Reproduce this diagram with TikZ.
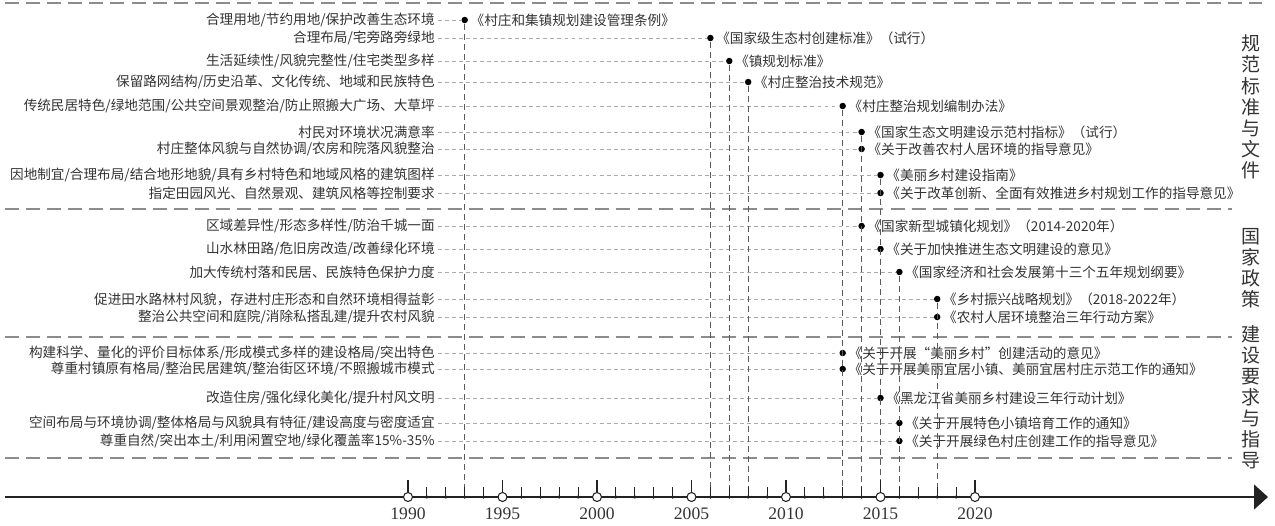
\documentclass[tikz,border=0pt]{standalone}
\usepackage{fontspec}
\setmainfont{Liberation Serif}
\newfontfamily\cjk{Noto Sans CJK SC}
\usepackage{xcolor}
\usetikzlibrary{positioning,arrows.meta}
\definecolor{rowline}{HTML}{ABABAB}
\definecolor{secline}{HTML}{8C8C8C}
\definecolor{yearline}{HTML}{5A5A5A}
\definecolor{inkcol}{HTML}{333333}
\definecolor{axiscol}{HTML}{222222}

\begin{document}
\begin{tikzpicture}[x=0.02cm, y=-0.02cm,
      reqtext/.style={anchor=east, inner sep=0pt, text=inkcol,
                      font=\cjk\fontsize{7.75}{9}\selectfont},
      doctext/.style={anchor=west, inner sep=0pt, text=inkcol,
                      font=\cjk\fontsize{7.75}{9}\selectfont},
      docdot/.style={circle, fill=black, inner sep=0pt, minimum size=0.13cm},
      rowdash/.style={draw=rowline, line width=0.5pt, dash pattern=on 2.2pt off 1.8pt},
      secdash/.style={draw=secline, line width=1.1pt, dash pattern=on 8pt off 4pt},
      yrdash/.style={draw=yearline, line width=0.5pt, dash pattern=on 3.4pt off 2.3pt},
      yrcirc/.style={circle, draw=axiscol, fill=white, line width=0.6pt,
                     inner sep=0pt, minimum size=0.18cm},
      sidelab/.style={align=center, text=inkcol, inner sep=0pt,
                      font=\cjk\fontsize{10.8}{12}\selectfont},
      yrlab/.style={font=\fontsize{10}{12}\selectfont, text=inkcol, inner sep=0pt}]

    \useasboundingbox (0,0) rectangle (1275,525);

    % section separators
    \draw[secdash] (5,3) -- (1262,3);
    \foreach \y in {209,337,458}
      \draw[secdash] (5,\y) -- (1232,\y);

    % time axis
    \coordinate (axL) at (5,497);
    \coordinate (axR) at (1268,497);
    \draw[axiscol, line width=0.7pt, -{Triangle[length=0.28cm, width=0.5cm]}] (axL) -- (axR);

    \foreach \yr in {1991,...,2019} {
      \coordinate (tk\yr) at ({408+18.9*(\yr-1990)},487);
      \draw[axiscol, line width=0.5pt] (tk\yr) -- ({408+18.9*(\yr-1990)},497);
      \fill[axiscol] ({408+18.9*(\yr-1990)},497) circle (0.035cm);
    }
    \foreach \yr in {1990,1995,...,2020} {
      \coordinate (tk\yr) at ({408+18.9*(\yr-1990)},480);
      \node[yrcirc] (c\yr) at ({408+18.9*(\yr-1990)},497) {};
      \draw[axiscol, line width=0.6pt] (tk\yr) -- (c\yr);
      \node[yrlab] (l\yr) at ({408+18.9*(\yr-1990)},514) {\yr};
    }

    % requirements and documents
    \foreach \y/\yr/\req/\doc [count=\i] in {
        20/1993/{合理用地/节约用地/保护改善生态环境}/{《村庄和集镇规划建设管理条例》},
        38/2006/{合理布局/宅旁路旁绿地}/{《国家级生态村创建标准》（试行）},
        61/2007/{生活延续性/风貌完整性/住宅类型多样}/{《镇规划标准》},
        82/2008/{保留路网结构/历史沿革、文化传统、地域和民族特色}/{《村庄整治技术规范》},
        106/2013/{传统民居特色/绿地范围/公共空间景观整治/防止照搬大广场、大草坪}/{《村庄整治规划编制办法》},
        132/2014/{村民对环境状况满意率}/{《国家生态文明建设示范村指标》（试行）},
        149/2014/{村庄整体风貌与自然协调/农房和院落风貌整治}/{《关于改善农村人居环境的指导意见》},
        175/2015/{因地制宜/合理布局/结合地形地貌/具有乡村特色和地域风格的建筑图样}/{《美丽乡村建设指南》},
        193/2015/{指定田园风光、自然景观、建筑风格等控制要求}/{《关于改革创新、全面有效推进乡村规划工作的指导意见》},
        226/2014/{区域差异性/形态多样性/防治千城一面}/{《国家新型城镇化规划》（2014-2020年）},
        249/2015/{山水林田路/危旧房改造/改善绿化环境}/{《关于加快推进生态文明建设的意见》},
        272/2016/{加大传统村落和民居、民族特色保护力度}/{《国家经济和社会发展第十三个五年规划纲要》},
        299/2018/{促进田水路林村风貌，存进村庄形态和自然环境相得益彰}/{《乡村振兴战略规划》（2018-2022年）},
        317/2018/{整治公共空间和庭院/消除私搭乱建/提升农村风貌}/{《农村人居环境整治三年行动方案》},
        353/2013/{构建科学、量化的评价目标体系/形成模式多样的建设格局/突出特色}/{《关于开展“美丽乡村”创建活动的意见》},
        369/2013/{尊重村镇原有格局/整治民居建筑/整治街区环境/不照搬城市模式}/{《关于开展美丽宜居小镇、美丽宜居村庄示范工作的通知》},
        398/2015/{改造住房/强化绿化美化/提升村风文明}/{《黑龙江省美丽乡村建设三年行动计划》},
        423/2016/{空间布局与环境协调/整体格局与风貌具有特征/建设高度与密度适宜}/{《关于开展特色小镇培育工作的通知》},
        441/2016/{尊重自然/突出本土/利用闲置空地/绿化覆盖率15\%-35\%}/{《关于开展绿色村庄创建工作的指导意见》}}
    {
      \node[reqtext] (r\i) at (435,\y) {\req};
      \node[docdot] (d\i) at ({408+18.9*(\yr-1990)},\y) {};
      \node[doctext, right=0.04cm of d\i] (t\i) {\doc};
      \draw[rowdash] ([xshift=0.06cm]r\i.east) -- (d\i);
    }

    % year drop lines
    \foreach \yr/\i in {1993/1,2006/2,2007/3,2008/4,2013/5,2014/6,2015/8,2016/12,2018/13}
      \draw[yrdash] (d\i) -- (tk\yr);

    % side labels
    \node[sidelab] (s1) at (1251,107) {规\\范\\标\\准\\与\\文\\件};
    \node[sidelab] (s2) at (1251,268) {国\\家\\政\\策};
    \node[sidelab] (s3) at (1251,397) {建\\设\\要\\求\\与\\指\\导};
  \end{tikzpicture}
\end{document}
